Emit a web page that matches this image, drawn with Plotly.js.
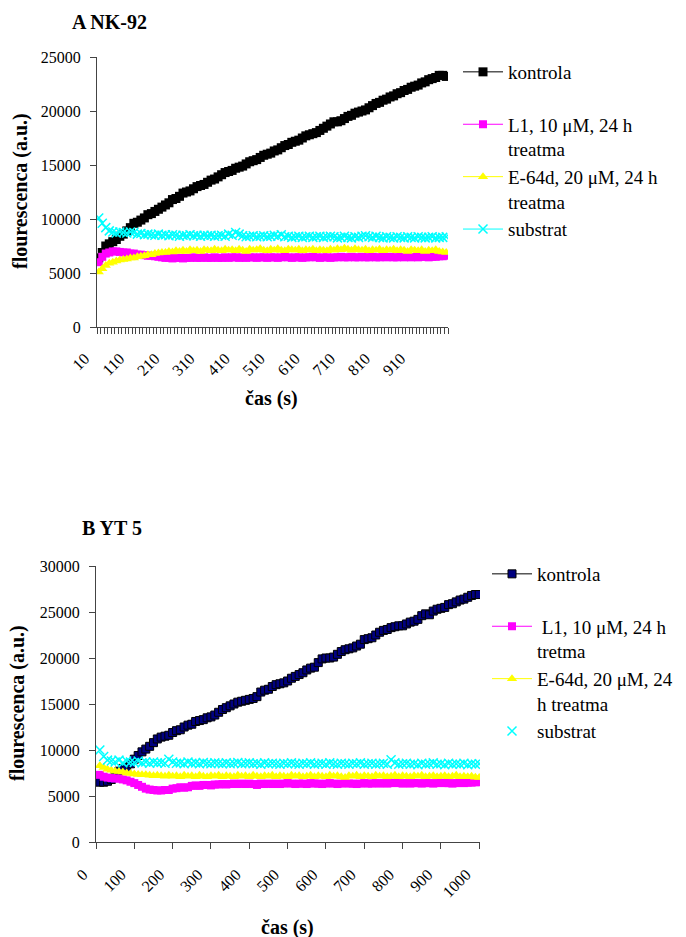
<!DOCTYPE html>
<html>
<head>
<meta charset="utf-8">
<script src="https://cdn.plot.ly/plotly-3.0.1.min.js"></script>
<style>html,body{margin:0;padding:0;background:#fff}#chart{width:686px;height:937px}</style>
</head>
<body>
<div id="chart"></div>
<script>
// ---------- DATA ----------
var timeA = [10,20,30,40,50,60,70,80,90,100,110,120,130,140,150,160,170,180,190,200,210,220,230,240,250,260,270,280,290,300,310,320,330,340,350,360,370,380,390,400,410,420,430,440,450,460,470,480,490,500,510,520,530,540,550,560,570,580,590,600,610,620,630,640,650,660,670,680,690,700,710,720,730,740,750,760,770,780,790,800,810,820,830,840,850,860,870,880,890,900,910,920,930,940,950,960,970,980,990,1000];
var timeB = timeA.slice();
var tickLabelsA = [10,110,210,310,410,510,610,710,810,910];
var tickLabelsB = [0,100,200,300,400,500,600,700,800,900,1000];

var nkKontrola = [6400,6900,7500,7700,7900,8100,8400,8600,8900,9200,9600,9700,9900,10100,10400,10500,10700,10900,11100,11300,11500,11800,11900,12100,12400,12500,12600,12800,13000,13100,13200,13400,13600,13700,13900,14100,14300,14400,14500,14700,14800,14900,15100,15300,15400,15500,15700,15900,16000,16100,16300,16400,16600,16800,16900,17100,17200,17300,17500,17700,17800,17900,18000,18200,18400,18600,18800,19000,19000,19100,19300,19500,19600,19800,19900,20000,20100,20300,20500,20700,20800,21000,21100,21300,21400,21600,21700,21900,22000,22200,22300,22400,22600,22700,22900,23000,23100,23300,23300,23200];
var nkL1 = [6000,6500,6800,6900,7000,7000,6950,6900,6900,6800,6800,6700,6700,6650,6600,6600,6550,6500,6450,6400,6400,6350,6400,6400,6350,6400,6400,6450,6400,6400,6450,6400,6400,6450,6400,6400,6450,6400,6450,6450,6400,6450,6400,6450,6450,6400,6450,6450,6400,6450,6450,6400,6450,6500,6450,6400,6450,6450,6400,6450,6450,6500,6450,6400,6450,6450,6400,6450,6450,6500,6450,6450,6500,6450,6450,6500,6450,6450,6500,6450,6450,6500,6450,6500,6450,6450,6500,6450,6500,6450,6500,6450,6500,6500,6450,6500,6500,6550,6550,6600];
var nkE64d = [5100,5400,5700,5900,6000,6100,6200,6250,6300,6400,6400,6500,6550,6600,6700,6700,6800,6850,6900,6900,7000,6950,7050,7000,7100,7000,7150,7050,7100,7000,7150,7100,7050,7200,7100,7050,7200,7100,7150,7050,7200,7100,7000,7200,7100,7150,7250,7100,7050,7200,7100,7250,7100,7050,7200,7150,7100,7200,7050,7150,7100,7200,7050,7150,7100,7050,7200,7100,7250,7150,7300,7200,7100,7250,7150,7100,7200,7050,7150,7100,7200,7050,7150,7100,7200,7050,7150,7100,7000,7150,7100,7050,7150,7000,7100,7050,7150,7000,6950,6900];
var nkSubstrat = [10100,9600,9200,8900,8800,8700,8800,8750,8700,8800,8750,8600,8650,8550,8600,8550,8500,8600,8500,8550,8450,8550,8500,8400,8500,8450,8550,8450,8500,8400,8500,8450,8500,8400,8450,8500,8400,8600,8500,8750,8600,8450,8350,8400,8450,8350,8400,8450,8350,8400,8500,8400,8550,8350,8400,8300,8350,8400,8300,8350,8400,8300,8350,8400,8300,8350,8400,8350,8250,8300,8400,8300,8250,8350,8300,8400,8450,8350,8300,8400,8300,8250,8350,8300,8250,8350,8300,8250,8350,8300,8250,8350,8300,8250,8300,8350,8250,8300,8300,8350];

var ytKontrola = [6500,6500,6600,6800,7200,7700,8000,8100,8500,9000,9400,9800,10100,10400,10800,11200,11400,11500,11600,11900,12100,12200,12500,12700,12800,13100,13200,13300,13500,13600,13800,14100,14400,14600,14800,15000,15200,15300,15400,15500,15600,15800,16300,16500,16600,16900,17100,17200,17300,17500,17800,18000,18200,18400,18700,18900,19000,19500,19900,20000,20000,20100,20400,20700,20900,21000,21100,21300,21500,22000,22100,22200,22500,22800,23000,23100,23300,23400,23500,23500,23700,23900,24000,24200,24600,24800,24700,25100,25300,25400,25500,25800,25900,26100,26300,26400,26600,26800,26900,26900];
var ytL1 = [7300,7100,7000,6950,6900,6900,6800,6700,6550,6400,6200,6000,5800,5700,5650,5600,5600,5650,5650,5800,5850,5950,5900,5950,6100,6150,6100,6200,6200,6150,6250,6250,6300,6250,6300,6350,6300,6350,6300,6350,6300,6200,6350,6300,6350,6300,6350,6300,6350,6400,6350,6300,6350,6350,6300,6400,6350,6350,6300,6350,6400,6350,6300,6350,6400,6350,6350,6300,6350,6400,6350,6350,6400,6350,6400,6350,6400,6450,6400,6350,6400,6350,6400,6400,6350,6400,6400,6350,6400,6450,6400,6400,6350,6400,6450,6400,6450,6450,6500,6500];
var ytE64d = [8300,8100,7900,7800,7700,7650,7600,7500,7450,7400,7350,7300,7300,7250,7200,7250,7200,7150,7250,7150,7200,7100,7250,7150,7200,7100,7250,7150,7100,7200,7150,7250,7100,7200,7150,7100,7250,7150,7200,7100,7250,7150,7100,7200,7150,7250,7100,7200,7150,7100,7250,7150,7200,7100,7150,7250,7100,7200,7150,7100,7250,7150,7200,7100,7000,7200,7150,7250,7100,7200,7150,7100,7250,7150,7200,7100,7150,7250,7100,7200,7150,7100,7200,7150,7250,7100,7150,7200,7100,7150,7200,7100,7150,7250,7100,7150,7100,7150,7050,7000];
var ytSubstrat = [10000,9300,8900,8800,8700,8900,8600,8800,8700,8650,8800,8600,8700,8550,8700,8600,8650,8550,9000,8700,8550,8600,8500,8700,8550,8600,8500,8650,8550,8500,8600,8550,8500,8600,8500,8550,8650,8500,8550,8600,8500,8550,8450,8600,8500,8550,8500,8450,8550,8500,8600,8500,8450,8550,8500,8600,8450,8500,8550,8450,8600,8500,8450,8550,8500,8450,8550,8500,8600,8450,8500,8550,8450,8500,8550,8450,8950,8600,8450,8500,8550,8450,8500,8400,8550,8450,8500,8600,8450,8500,8400,8550,8450,8500,8450,8550,8400,8500,8450,8500];

var namesA = ["kontrola<br> ", "L1, 10 μM, 24 h<br>treatma", "E-64d, 20 μM, 24 h<br>treatma", "substrat"];
var namesB = ["kontrola<br> ", " L1, 10 μM, 24 h<br>tretma", "E-64d, 20 μM, 24<br>h treatma", "substrat"];

// ---------- STYLE ----------
var W = 686, H = 937;
var SERIF = "Liberation Serif, Times New Roman, serif";
function px(x){return x/W;}
function py(y){return 1 - y/H;}

var traces = [
  {x: timeA, y: nkKontrola, name: namesA[0], mode: 'lines+markers', xaxis:'x', yaxis:'y', legend:'legend',
   line:{color:'#000000', width:1}, marker:{symbol:'square', size:9, color:'#000000'}},
  {x: timeA, y: nkL1, name: namesA[1], mode: 'lines+markers', xaxis:'x', yaxis:'y', legend:'legend',
   line:{color:'#FF00FF', width:1}, marker:{symbol:'square', size:8, color:'#FF00FF'}},
  {x: timeA, y: nkE64d, name: namesA[2], mode: 'lines+markers', xaxis:'x', yaxis:'y', legend:'legend',
   line:{color:'#FFFF00', width:1}, marker:{symbol:'triangle-up', size:9, color:'#FFFF00'}},
  {x: timeA, y: nkSubstrat, name: namesA[3], mode: 'lines+markers', xaxis:'x', yaxis:'y', legend:'legend',
   line:{color:'#00FFFF', width:1}, marker:{symbol:'x-thin', size:9, line:{color:'#00FFFF', width:1.5}, color:'#00FFFF'}},

  {x: timeB, y: ytKontrola, name: namesB[0], mode: 'lines+markers', xaxis:'x2', yaxis:'y2', legend:'legend2',
   line:{color:'#000000', width:1}, marker:{symbol:'square', size:8, color:'#000080', line:{color:'#000000', width:1}}},
  {x: timeB, y: ytL1, name: namesB[1], mode: 'lines+markers', xaxis:'x2', yaxis:'y2', legend:'legend2',
   line:{color:'#FF00FF', width:1}, marker:{symbol:'square', size:8, color:'#FF00FF'}},
  {x: timeB, y: ytE64d, name: namesB[2], mode: 'lines+markers', xaxis:'x2', yaxis:'y2', legend:'legend2',
   line:{color:'#FFFF00', width:1}, marker:{symbol:'triangle-up', size:9, color:'#FFFF00'}},
  {x: timeB, y: ytSubstrat, name: namesB[3], mode: 'markers', xaxis:'x2', yaxis:'y2', legend:'legend2',
   marker:{symbol:'x-thin', size:9, line:{color:'#00FFFF', width:1.5}, color:'#00FFFF'}}
];

var axisCommon = {
  showgrid:false, zeroline:false, showline:true, linecolor:'#444', linewidth:1,
  ticks:'outside', tickcolor:'#444', ticklen:6, tickwidth:1,
  tickfont:{family:SERIF, size:16, color:'#000'}, automargin:false
};

function merge(a,b){var o={};for(var k in a)o[k]=a[k];for(var k2 in b)o[k2]=b[k2];return o;}

var legendCommon = {
  font:{family:SERIF, size:19, color:'#000'}, valign:'top', itemwidth:40,
  bgcolor:'rgba(0,0,0,0)', borderwidth:0, xanchor:'left', yanchor:'top', tracegroupgap:0,
  itemclick:false, itemdoubleclick:false
};

var layout = {
  width:W, height:H, margin:{l:0,r:0,t:0,b:0},
  paper_bgcolor:'#fff', plot_bgcolor:'#fff', showlegend:true,
  font:{family:SERIF, color:'#000'},
  xaxis: merge(axisCommon, {domain:[px(97), px(448)], anchor:'y', range:[5,1005],
    tickmode:'array', tickvals:tickLabelsA, ticktext:tickLabelsA.map(String), ticks:'', tickangle:-45,
    ticklabelstandoff:15, ticklabelshift:-14,
    minor:{ticks:'outside', tickmode:'linear', tick0:5, dtick:10, ticklen:6, tickcolor:'#444', showgrid:false}}),
  yaxis: merge(axisCommon, {domain:[py(327), py(57)], anchor:'x', range:[0,25000], dtick:5000, tickformat:'d', ticklabelstandoff:6}),
  xaxis2: merge(axisCommon, {domain:[px(96), px(480)], anchor:'y2', range:[0,1002],
    tickmode:'array', tickvals:tickLabelsB, ticktext:tickLabelsB.map(String), tickangle:-45,
    ticklabelstandoff:10, ticklabelshift:-13}),
  yaxis2: merge(axisCommon, {domain:[py(842), py(566)], anchor:'x2', range:[0,30000], dtick:5000, tickformat:'d', ticklabelstandoff:6}),
  legend: merge(legendCommon, {x:px(458), y:py(53)}),
  legend2: merge(legendCommon, {x:px(487), y:py(555)}),
  annotations: [
    {text:'<b>A NK-92</b>', x:px(70), y:py(22), xref:'paper', yref:'paper', xanchor:'left', yanchor:'middle', showarrow:false, font:{family:SERIF, size:20, color:'#000'}},
    {text:'<b>B YT 5</b>', x:px(80), y:py(528), xref:'paper', yref:'paper', xanchor:'left', yanchor:'middle', showarrow:false, font:{family:SERIF, size:20, color:'#000'}},
    {text:'<b>flourescenca (a.u.)</b>', x:px(20), y:py(191), xref:'paper', yref:'paper', xanchor:'center', yanchor:'middle', textangle:-90, showarrow:false, font:{family:SERIF, size:20, color:'#000'}},
    {text:'<b>flourescenca (a.u.)</b>', x:px(17), y:py(703), xref:'paper', yref:'paper', xanchor:'center', yanchor:'middle', textangle:-90, showarrow:false, font:{family:SERIF, size:20, color:'#000'}},
    {text:'<b>čas (s)</b>', x:px(271), y:py(398), xref:'paper', yref:'paper', xanchor:'center', yanchor:'middle', showarrow:false, font:{family:SERIF, size:20, color:'#000'}},
    {text:'<b>čas (s)</b>', x:px(287), y:py(927), xref:'paper', yref:'paper', xanchor:'center', yanchor:'middle', showarrow:false, font:{family:SERIF, size:20, color:'#000'}}
  ]
};

Plotly.newPlot('chart', traces, layout, {staticPlot:true, displayModeBar:false});
</script>
</body>
</html>
